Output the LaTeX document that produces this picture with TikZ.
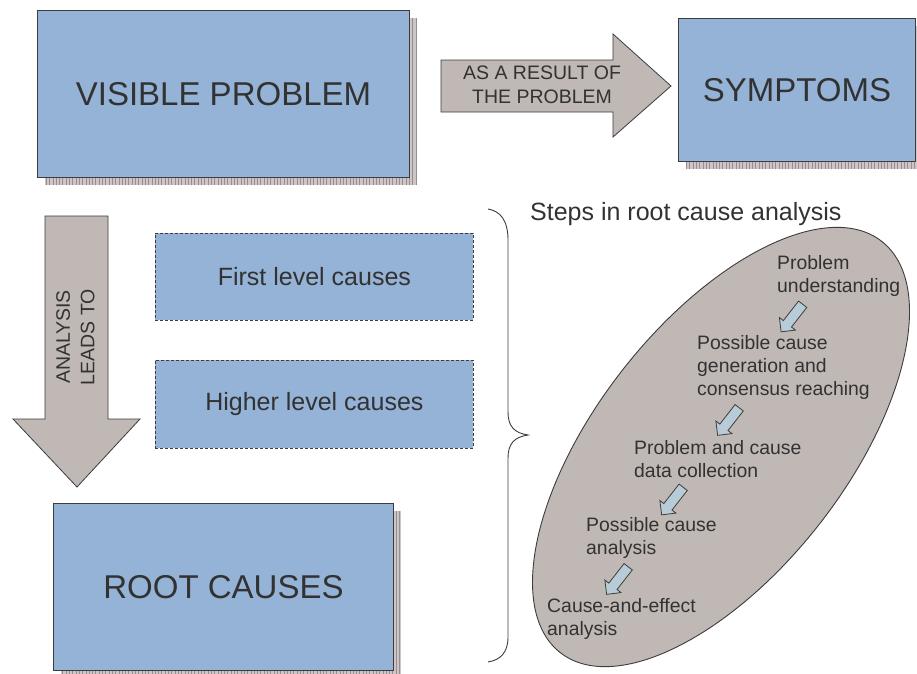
\documentclass[tikz,border=0pt]{standalone}
\usepackage{fontspec}
\setmainfont{Liberation Sans}
\usetikzlibrary{shapes.geometric,shapes.arrows}

\definecolor{boxblue}{RGB}{149,179,215}
\definecolor{arrowgrey}{RGB}{192,184,181}
\definecolor{edgegrey}{RGB}{60,60,60}
\definecolor{inkgrey}{RGB}{50,50,50}
\definecolor{shadowbase}{RGB}{206,198,198}
\definecolor{shadowline}{RGB}{150,142,142}
\definecolor{stepblue}{RGB}{184,204,216}

\tikzset{
  mainbox/.style={draw=edgegrey, line width=1pt, fill=boxblue, inner sep=0pt,
    anchor=north west, text=inkgrey, font=\fontsize{33}{40}\selectfont},
  dashbox/.style={draw=edgegrey, dashed, dash pattern=on 3pt off 2pt, line width=0.8pt,
    fill=boxblue, inner sep=0pt, anchor=north west, text=inkgrey,
    font=\fontsize{25}{30}\selectfont},
  bigarrow/.style={draw=edgegrey, line width=0.8pt, fill=arrowgrey},
  arrowtext/.style={text=inkgrey, align=center, inner sep=0pt,
    font=\fontsize{19.5}{24.5}\selectfont},
  steptext/.style={text=inkgrey, align=left, inner sep=0pt, anchor=west,
    font=\fontsize{19.4}{23}\selectfont},
  steparrow/.style={single arrow, draw=edgegrey, line width=0.8pt, fill=stepblue,
    inner sep=4.8pt, minimum height=35pt, single arrow head extend=5pt,
    rotate=-128}
}

% hatched drop shadow, offset 8 units right and down from a box
\newcommand{\boxshadow}[4]{%
  \begin{scope}
    \clip (#1+8,#2+8) rectangle (#3+8,#4+8);
    \fill[shadowbase] (#1+8,#2+8) rectangle (#3+8,#4+8);
    \draw[shadowline, line width=0.5pt, step=3.3] (#1+8,#2+8) grid (#3+8,#4+8);
  \end{scope}}

\begin{document}
\begin{tikzpicture}[x=1pt, y=-1pt]
  \useasboundingbox (0,0) rectangle (917,673);

  % top row: visible problem -> symptoms
  \boxshadow{37}{10}{409}{177}
  \node[mainbox, minimum width=372pt, minimum height=167pt] (visible) at (37,10) {VISIBLE PROBLEM};

  \draw[bigarrow] (441,60) -- (613,60) -- (613,34) -- (671,86) -- (613,137)
    -- (613,112) -- (441,112) -- cycle;
  \node[arrowtext] (result) at (542,85) {AS A RESULT OF\\THE PROBLEM};

  \boxshadow{678}{18}{915}{161}
  \node[mainbox, minimum width=237pt, minimum height=143pt] (symptoms) at (678,18) {SYMPTOMS};

  % analysis arrow down to the root causes
  \draw[bigarrow] (45,216) -- (108,216) -- (108,419) -- (140,419) -- (77,487)
    -- (13,419) -- (45,419) -- cycle;
  \node[arrowtext, rotate=90] (analysis) at (75.5,337) {ANALYSIS\\LEADS TO};

  \node[dashbox, minimum width=318pt, minimum height=87pt] (first) at (155,233) {First level causes};
  \node[dashbox, minimum width=318pt, minimum height=88pt] (higher) at (155,360) {Higher level causes};

  \boxshadow{53}{503}{393}{670}
  \node[mainbox, minimum width=340pt, minimum height=167pt] (root) at (53,503) {ROOT CAUSES};

  % brace gathering the cause levels
  \draw[edgegrey, line width=0.9pt] (488,209) .. controls (500,211) and (508,220) .. (508,240)
    -- (508,412) .. controls (508,426) and (514,433) .. (528,435)
    .. controls (514,437) and (508,444) .. (508,458)
    -- (508,637) .. controls (508,653) and (500,660) .. (488,662);

  % steps in root cause analysis
  \node[text=inkgrey, anchor=west, inner sep=0pt, font=\fontsize{25}{30}\selectfont]
    (title) at (530,214) {Steps in root cause analysis};

  \node[ellipse, draw=edgegrey, line width=0.9pt, fill=arrowgrey, inner sep=0pt,
    minimum width=522pt, minimum height=250pt, rotate=52] (oval) at (721,447) {};

  \node[steptext] (s1) at (777,276) {Problem\\understanding};
  \node[steptext] (s2) at (697,367) {Possible cause\\generation and\\consensus reaching};
  \node[steptext] (s3) at (634,459) {Problem and cause\\data collection};
  \node[steptext] (s4) at (586,537.5) {Possible cause\\analysis};
  \node[steptext] (s5) at (547,618.5) {Cause-and-effect\\analysis};

  \node[steparrow] (a1) at (793.5,316) {};
  \node[steparrow] (a2) at (730,419.5) {};
  \node[steparrow] (a3) at (674,499) {};
  \node[steparrow] (a4) at (619,578.5) {};
\end{tikzpicture}
\end{document}
